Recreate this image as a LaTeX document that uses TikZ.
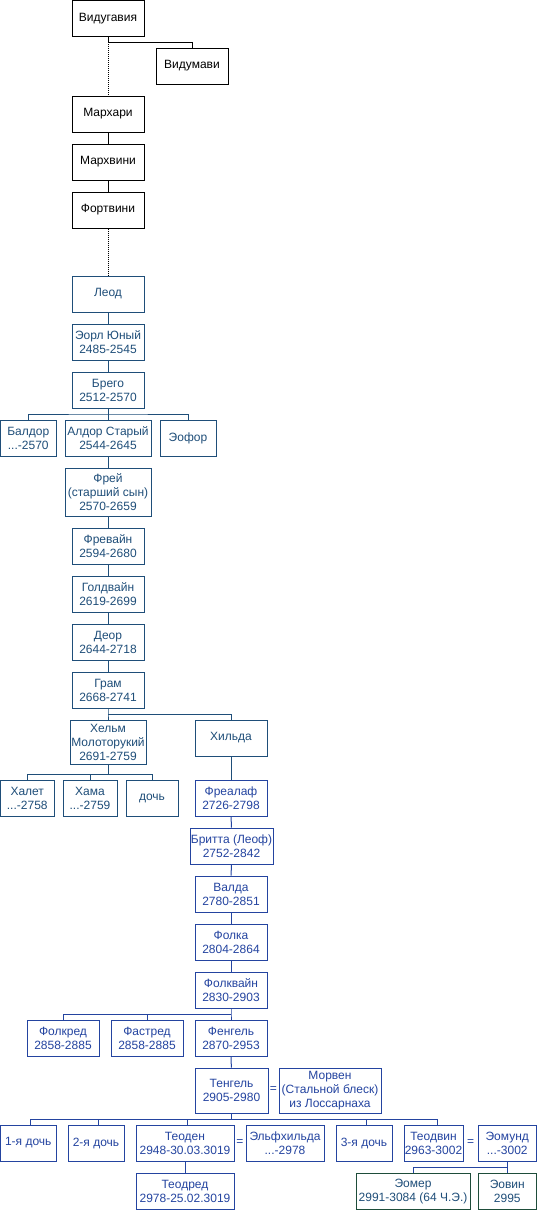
\documentclass[tikz,border=0pt]{standalone}
\usepackage{fontspec}
\setmainfont{Liberation Sans}
\definecolor{navy}{HTML}{1F4E79}
\definecolor{rblue}{HTML}{2444A0}
\definecolor{dgreen}{HTML}{1E4D3A}
\newcommand\pbox[7]{%
  \node[pbox,#6,minimum width={(#4-#2)*1pt},minimum height={(#5-#3)*1pt}] (#1) at ({(#2+#4)/2},{(#3+#5)/2}) {#7};}
\begin{document}
\begin{tikzpicture}[x=1pt,y=-1pt,
  pbox/.style={draw,fill=white,line width=1pt,inner sep=0pt,align=center,font=\fontsize{12}{14}\selectfont},
  blk/.style={draw=black,text=black},
  nv/.style={draw=navy,text=navy},
  bl/.style={draw=rblue,text=rblue},
  gr/.style={draw=dgreen,text=navy},
  cn/.style={line width=1pt},
  eq/.style={inner sep=0pt,font=\fontsize{12}{14}\selectfont}]
\useasboundingbox (0,0) rectangle (537,1210);
% top
\pbox{vidu}{72}{0.5}{144}{36}{blk}{Видугавия}
\pbox{vidum}{156}{48}{228}{84}{blk}{Видумави}
\pbox{marh}{72}{96}{144}{132}{blk}{Мархари}
\pbox{marhv}{72}{144}{144}{180}{blk}{Мархвини}
\pbox{fort}{72}{192}{144}{228}{blk}{Фортвини}
% navy
\pbox{leod}{72}{276}{144}{312}{nv}{Леод}
\pbox{eorl}{72}{324}{144}{360}{nv}{Эорл Юный\\2485-2545}
\pbox{brego}{72}{372}{144}{408}{nv}{Брего\\2512-2570}
\pbox{baldor}{0.5}{420}{56}{456}{nv}{Балдор\\...-2570}
\pbox{aldor}{65}{420}{151}{456}{nv}{Алдор Старый\\2544-2645}
\pbox{eofor}{160}{420}{216}{456}{nv}{Эофор}
\pbox{frea}{65}{468}{151}{516}{nv}{Фрей\\(старший сын)\\2570-2659}
\pbox{freawine}{72}{528}{144}{564}{nv}{Фревайн\\2594-2680}
\pbox{goldwine}{72}{576}{144}{612}{nv}{Голдвайн\\2619-2699}
\pbox{deor}{72}{624}{144}{660}{nv}{Деор\\2644-2718}
\pbox{gram}{72}{672}{144}{708}{nv}{Грам\\2668-2741}
\pbox{helm}{70}{720}{146}{764}{nv}{Хельм\\Молоторукий\\2691-2759}
\pbox{hild}{195}{720}{267}{756}{nv}{Хильда}
\pbox{haleth}{0.5}{780}{54}{816}{nv}{Халет\\...-2758}
\pbox{hama}{63}{780}{117}{816}{nv}{Хама\\...-2759}
\pbox{doch}{126}{780}{178}{816}{nv}{дочь}
% blue
\pbox{frealaf}{195}{780}{267}{816}{bl}{Фреалаф\\2726-2798}
\pbox{brytta}{190}{828}{273}{864}{bl}{Бритта (Леоф)\\2752-2842}
\pbox{walda}{195}{876}{267}{912}{bl}{Валда\\2780-2851}
\pbox{folca}{195}{924}{267}{960}{bl}{Фолка\\2804-2864}
\pbox{folcwine}{195}{972}{267}{1008}{bl}{Фолквайн\\2830-2903}
\pbox{folcred}{27}{1020}{99}{1056}{bl}{Фолкред\\2858-2885}
\pbox{fastred}{111}{1020}{183}{1056}{bl}{Фастред\\2858-2885}
\pbox{fengel}{195}{1020}{267}{1056}{bl}{Фенгель\\2870-2953}
\pbox{thengel}{195}{1068}{268}{1113}{bl}{Тенгель\\2905-2980}
\pbox{morwen}{279}{1068}{381}{1113}{bl}{Морвен\\(Стальной блеск)\\из Лоссарнаха}
\pbox{d1}{0.5}{1125}{56}{1161}{bl}{1-я дочь}
\pbox{d2}{68}{1125}{124}{1161}{bl}{2-я дочь}
\pbox{theoden}{136}{1125}{234}{1161}{bl}{Теоден\\2948-30.03.3019}
\pbox{elf}{246}{1125}{324}{1161}{bl}{Эльфхильда\\...-2978}
\pbox{d3}{336}{1125}{392}{1161}{bl}{3-я дочь}
\pbox{theodwyn}{404}{1125}{463}{1161}{bl}{Теодвин\\2963-3002}
\pbox{eomund}{478}{1125}{536.5}{1161}{bl}{Эомунд\\...-3002}
\pbox{theodred}{136}{1173}{234}{1209.5}{bl}{Теодред\\2978-25.02.3019}
\pbox{eomer}{356}{1173}{470}{1209.5}{gr}{Эомер\\2991-3084 (64 Ч.Э.)}
\pbox{eowyn}{478}{1173}{536.5}{1209.5}{gr}{Эовин\\2995}
% equals
\node[eq,text=rblue] (eq1) at (273.5,1090) {=};
\node[eq,text=rblue] (eq2) at (240,1143) {=};
\node[eq,text=rblue] (eq3) at (470.5,1143) {=};
% connectors black
\coordinate (vj) at (108,42);
\draw[cn] (vidu.south) -- (vj) -| (vidum.north);
\draw[cn,densely dotted] (vj) -- (marh.north);
\draw[cn] (marh) -- (marhv);
\draw[cn] (marhv) -- (fort);
\draw[cn,densely dotted] (fort) -- (leod);
% navy connectors
\begin{scope}[navy]
\draw[cn] (leod) -- (eorl);
\draw[cn] (eorl) -- (brego);
\coordinate (bj) at (108,414);
\draw[cn] (brego.south) -- (bj);
\draw[cn] (baldor.north) |- (bj) -| (eofor.north);
\draw[cn] (bj) -- (aldor.north);
\draw[cn] (aldor) -- (frea);
\draw[cn] (frea) -- (freawine);
\draw[cn] (freawine) -- (goldwine);
\draw[cn] (goldwine) -- (deor);
\draw[cn] (deor) -- (gram);
\coordinate (gj) at (108,714);
\draw[cn] (gram.south) -- (gj) -- (helm.north);
\draw[cn] (gj) -| (hild.north);
\coordinate (hj) at (108,774);
\draw[cn] (helm.south) -- (hj);
\draw[cn] (haleth.north) |- (hj) -| (doch.north);
\draw[cn] (hama.north) -- (hama.north |- hj);
\draw[cn] (hild) -- (frealaf);
\end{scope}
% blue connectors
\begin{scope}[rblue]
\draw[cn] (frealaf) -- (brytta);
\draw[cn] (brytta) -- (walda);
\draw[cn] (walda) -- (folca);
\draw[cn] (folca) -- (folcwine);
\coordinate (fj) at (231,1014);
\draw[cn] (folcwine.south) -- (fj) -- (fengel.north);
\draw[cn] (fj) -| (folcred.north);
\draw[cn] (fastred.north) -- (fastred.north |- fj);
\draw[cn] (fengel) -- (thengel);
\coordinate (tj) at (231.5,1119);
\draw[cn] (thengel.south) -- (tj);
\draw[cn] ([xshift=2pt]d1.north) |- (tj) -| ([xshift=3.5pt]theodwyn.north);
\draw[cn] ([xshift=2pt]d2.north) -- ([xshift=2pt]d2.north |- tj);
\draw[cn] ([xshift=2pt]theoden.north) -- ([xshift=2pt]theoden.north |- tj);
\draw[cn] ([xshift=2.5pt]d3.north) -- ([xshift=2.5pt]d3.north |- tj);
\draw[cn] (theoden) -- (theodred);
\coordinate (ej) at (507.25,1167);
\draw[cn] (eomund.south) -- (ej) -- (eowyn.north);
\draw[cn] (ej) -| (eomer.north);
\end{scope}
\end{tikzpicture}
\end{document}
